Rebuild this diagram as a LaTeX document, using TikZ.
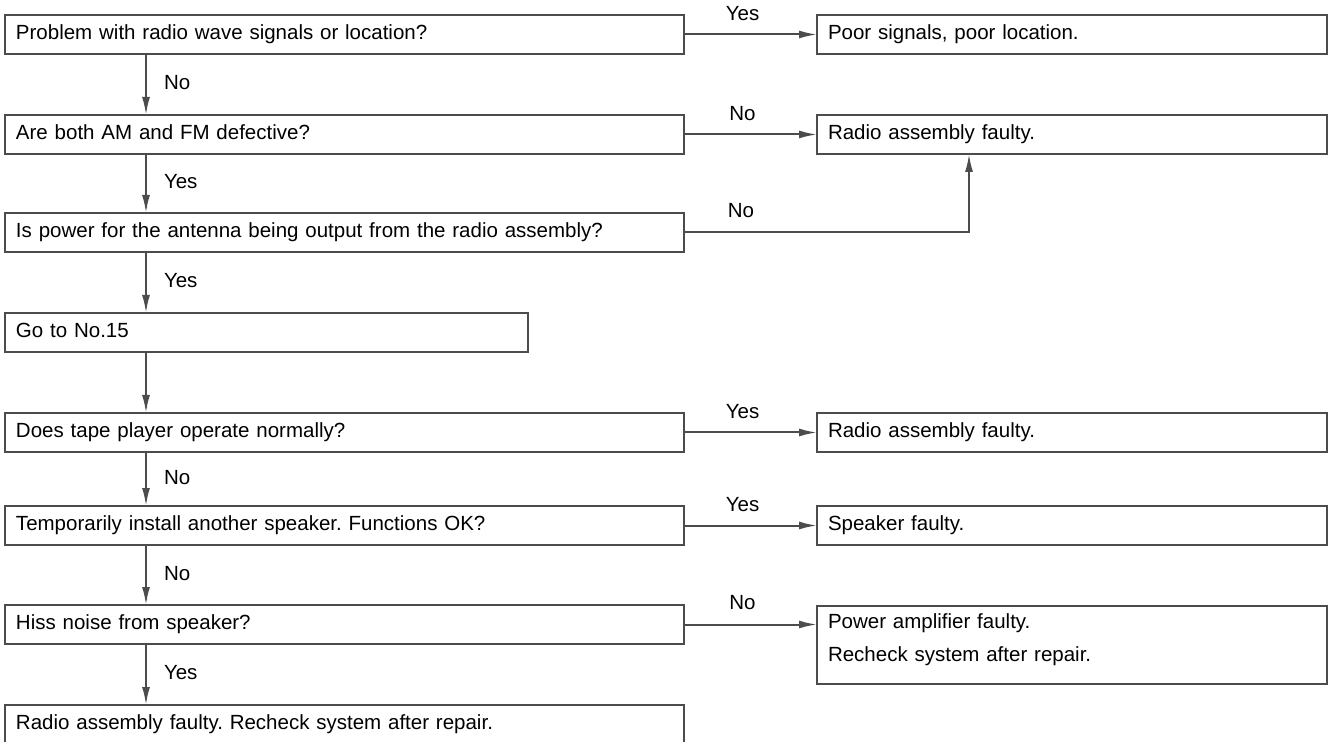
\documentclass[tikz,border=0pt]{standalone}
\usepackage{fontspec}
\setmainfont{Liberation Sans}
\frenchspacing
\usetikzlibrary{arrows.meta, positioning}

\begin{document}
\begin{tikzpicture}[
    boxbase/.style={draw=black!70, line width=1pt, rectangle, anchor=north west, inner xsep=5.5pt, inner ysep=0pt, outer sep=0pt, align=left, font=\fontsize{10.25}{12.3}\selectfont},
    qbox/.style={boxbase, text width=328.5pt, minimum height=19.5pt, text height=7.5pt, text depth=2.2pt},
    abox/.style={boxbase, text width=244pt, minimum height=19.5pt, text height=7.5pt, text depth=2.2pt},
    lbl/.style={font=\fontsize{10.25}{12.3}\selectfont, inner sep=0pt, text height=7.5pt, text depth=2.2pt},
    flow/.style={draw=black!70, line width=1pt, -{Latex[length=9pt,width=4pt]}}
  ]
  \useasboundingbox (0,0) rectangle (665.5pt,-371pt);

  % questions, left column
  \node[qbox] (q1) at (2.5pt,-7.5pt) {Problem with radio wave signals or location?};
  \node[qbox, below=30.5pt of q1.south west, anchor=north west] (q2) {Are both AM and FM defective?};
  \node[qbox, below=29.5pt of q2.south west, anchor=north west] (q3) {Is power for the antenna being output from the radio assembly?};
  \node[qbox, text width=250.5pt, below=30.5pt of q3.south west, anchor=north west] (go) {Go to No.15};
  \node[qbox, below=30.5pt of go.south west, anchor=north west] (q4) {Does tape player operate normally?};
  \node[qbox, below=27pt of q4.south west, anchor=north west] (q5) {Temporarily install another speaker. Functions OK?};
  \node[qbox, below=30pt of q5.south west, anchor=north west] (q6) {Hiss noise from speaker?};
  \node[qbox, below=30.5pt of q6.south west, anchor=north west] (r7) {Radio assembly faulty. Recheck system after repair.};

  % results, right column
  \node[abox, right=66.5pt of q1.north east, anchor=north west] (a1) {Poor signals, poor location.};
  \node[abox, right=66.5pt of q2.north east, anchor=north west] (a2) {Radio assembly faulty.};
  \node[abox, right=66.5pt of q4.north east, anchor=north west] (a4) {Radio assembly faulty.};
  \node[abox, right=66.5pt of q5.north east, anchor=north west] (a5) {Speaker faulty.};
  \node[boxbase, text width=244pt, minimum height=39pt, right=66.5pt of q6.north east, anchor=north west, yshift=-0.5pt] (a6) {Power amplifier faulty.\\[4.2pt]Recheck system after repair.\rule[-7.6pt]{0pt}{7.6pt}};

  % down arrows
  \draw[flow] ([xshift=70.5pt]q1.south west) -- node[lbl, right=8.5pt] {No} ([xshift=70.5pt]q2.north west);
  \draw[flow] ([xshift=70.5pt]q2.south west) -- node[lbl, right=8.5pt] {Yes} ([xshift=70.5pt]q3.north west);
  \draw[flow] ([xshift=70.5pt]q3.south west) -- node[lbl, right=8.5pt] {Yes} ([xshift=70.5pt]go.north west);
  \draw[flow] ([xshift=70.5pt]go.south west) -- ([xshift=70.5pt]q4.north west);
  \draw[flow] ([xshift=70.5pt]q4.south west) -- node[lbl, right=8.5pt] {No} ([xshift=70.5pt]q5.north west);
  \draw[flow] ([xshift=70.5pt]q5.south west) -- node[lbl, right=8.5pt] {No} ([xshift=70.5pt]q6.north west);
  \draw[flow] ([xshift=70.5pt]q6.south west) -- node[lbl, right=8.5pt] {Yes} ([xshift=70.5pt]r7.north west);

  % side arrows
  \draw[flow] (q1.east) -- node[lbl, pos=0.44, above=4.2pt] {Yes} (a1.west |- q1.east);
  \draw[flow] (q2.east) -- node[lbl, pos=0.44, above=4.2pt] {No} (a2.west |- q2.east);
  \draw[flow] (q3.east) -| node[lbl, pos=0.1, above=5pt] {No} ([xshift=76pt]a2.south west);
  \draw[flow] (q4.east) -- node[lbl, pos=0.44, above=4.2pt] {Yes} (a4.west |- q4.east);
  \draw[flow] (q5.east) -- node[lbl, pos=0.44, above=4.2pt] {Yes} (a5.west |- q5.east);
  \draw[flow] (q6.east) -- node[lbl, pos=0.44, above=5pt] {No} (a6.west |- q6.east);
\end{tikzpicture}
\end{document}
